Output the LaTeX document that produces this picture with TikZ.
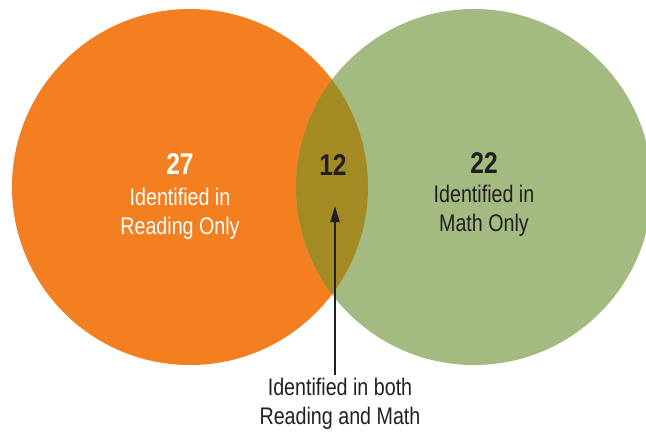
\documentclass[tikz,border=0pt]{standalone}
\usepackage{fontspec}
\setmainfont{Liberation Sans}[FakeStretch=0.82]
\usetikzlibrary{arrows.meta}
\definecolor{vorange}{HTML}{F47F20}
\definecolor{vgreen}{HTML}{A3BA81}
\definecolor{volive}{HTML}{A38A22}
\definecolor{vdark}{HTML}{231F20}
\begin{document}
\begin{tikzpicture}[x=1pt,y=-1pt,
  num/.style={font=\fontsize{30}{32}\selectfont\bfseries, inner sep=0pt},
  lbl/.style={font=\fontsize{24}{29}\selectfont, align=center, inner sep=0pt},
  arr/.style={draw=vdark, line width=2pt, -{Triangle[width=9pt,length=16pt]}}]
\useasboundingbox (0,0) rectangle (646,432);
\begin{scope}
\clip (0,0) rectangle (646,432);
\fill[vorange] (190,187) circle[radius=178];
\fill[vgreen] (474,187) circle[radius=178];
\begin{scope}
\clip (190,187) circle[radius=178];
\fill[volive] (474,187) circle[radius=178];
\end{scope}
\end{scope}
\node[num, text=white] (n27) at (180,164) {27};
\node[lbl, text=white] (t27) at (180,214) {Identified in\\Reading Only};
\node[num, text=vdark] (n12) at (333,165) {12};
\node[num, text=vdark] (n22) at (484,163) {22};
\node[lbl, text=vdark] (t22) at (484,211) {Identified in\\Math Only};
\node[lbl, text=vdark] (tb) at (340,404) {Identified in both\\Reading and Math};
\coordinate (tip) at (335,206);
\draw[arr] (tb.north -| tip) ++(0,-3) -- (tip);
\end{tikzpicture}
\end{document}
